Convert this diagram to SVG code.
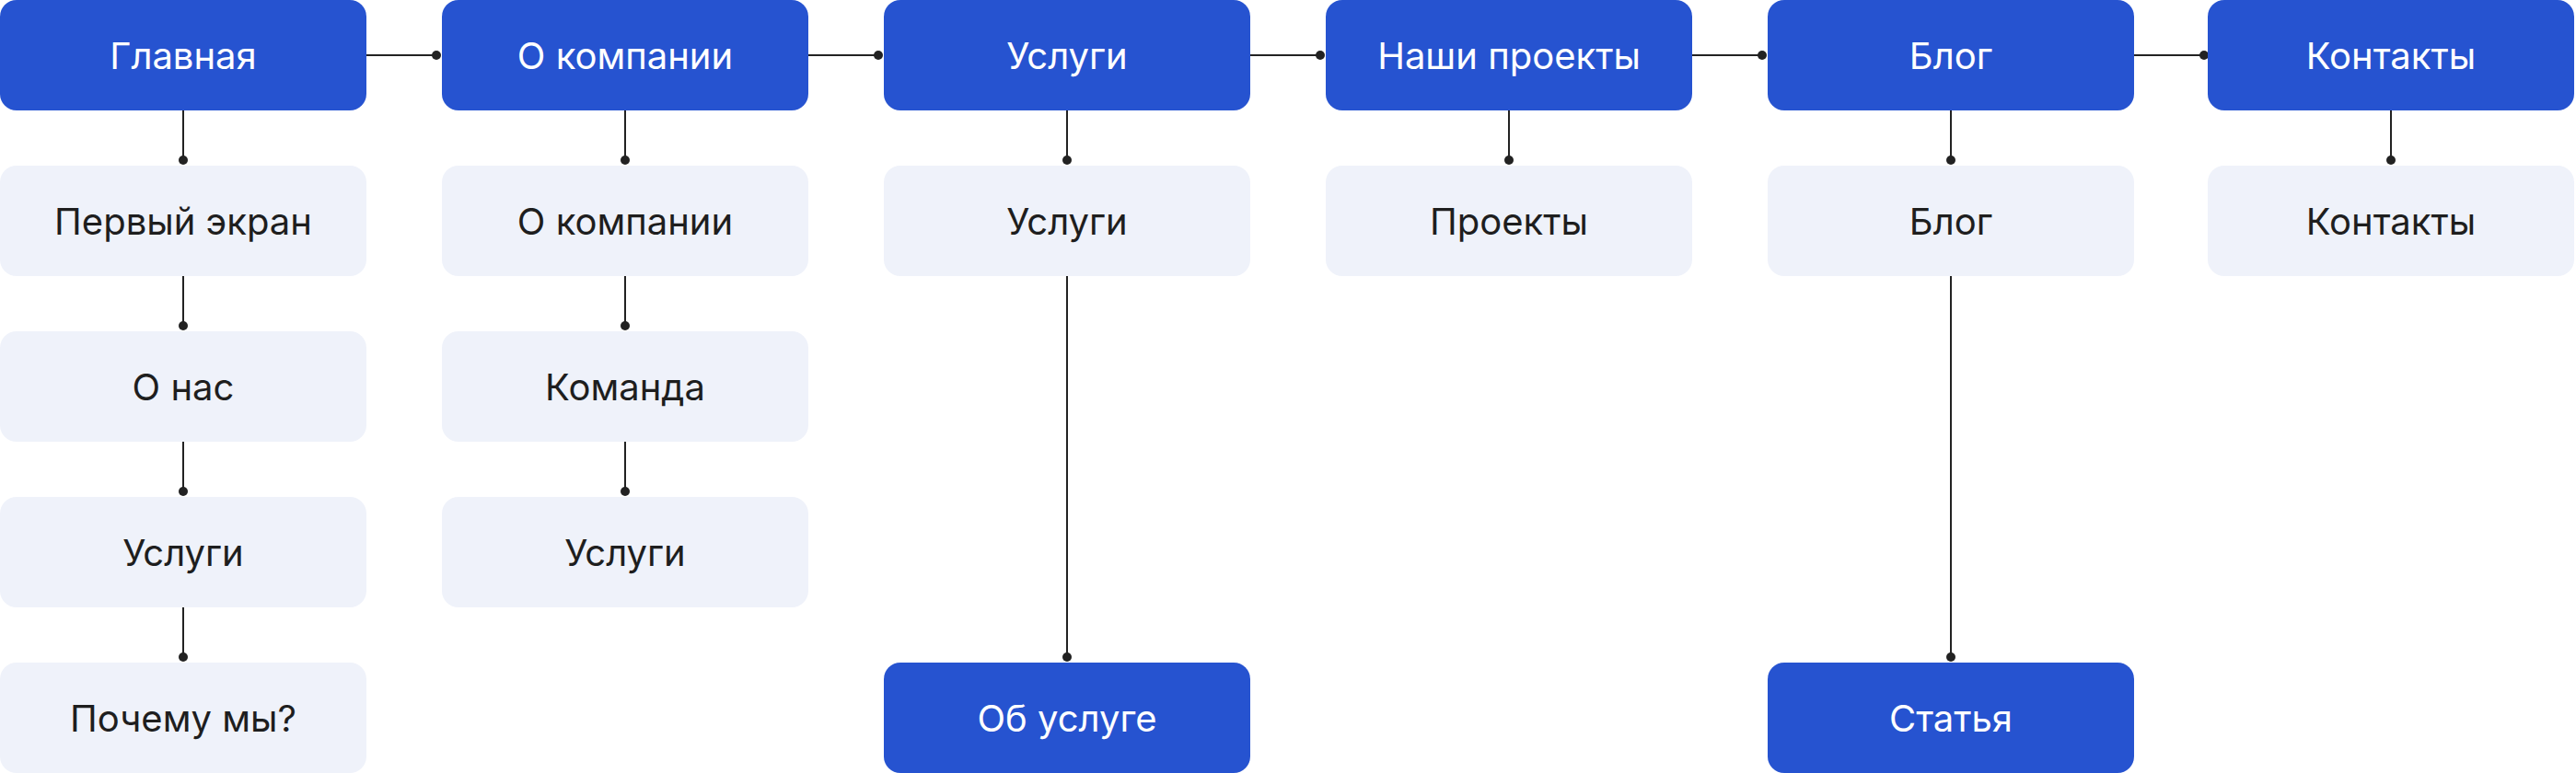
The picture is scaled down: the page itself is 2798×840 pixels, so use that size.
<svg xmlns="http://www.w3.org/2000/svg" width="2798" height="840" viewBox="0 0 2798 840">
<style>
.b{fill:#2653D0}.l{fill:#EFF2FA}
.tw{fill:#fff;font-family:Inter,"Noto Sans",sans-serif;font-size:40px;text-anchor:middle;dominant-baseline:central}
.tk{fill:#1E1E1E;font-family:Inter,"Noto Sans",sans-serif;font-size:40px;text-anchor:middle;dominant-baseline:central}
.c line{stroke:#222;stroke-width:2}.c circle{fill:#222}
</style>
<rect width="2798" height="840" fill="#fff"/>
<g class="c">
<line x1="398" y1="60" x2="474" y2="60"/><circle cx="474" cy="60" r="5"/>
<line x1="878" y1="60" x2="954" y2="60"/><circle cx="954" cy="60" r="5"/>
<line x1="1358" y1="60" x2="1434" y2="60"/><circle cx="1434" cy="60" r="5"/>
<line x1="1838" y1="60" x2="1914" y2="60"/><circle cx="1914" cy="60" r="5"/>
<line x1="2318" y1="60" x2="2394" y2="60"/><circle cx="2394" cy="60" r="5"/>
<line x1="199" y1="120" x2="199" y2="174"/><circle cx="199" cy="174" r="5"/>
<line x1="199" y1="300" x2="199" y2="354"/><circle cx="199" cy="354" r="5"/>
<line x1="199" y1="480" x2="199" y2="534"/><circle cx="199" cy="534" r="5"/>
<line x1="199" y1="660" x2="199" y2="714"/><circle cx="199" cy="714" r="5"/>
<line x1="679" y1="120" x2="679" y2="174"/><circle cx="679" cy="174" r="5"/>
<line x1="679" y1="300" x2="679" y2="354"/><circle cx="679" cy="354" r="5"/>
<line x1="679" y1="480" x2="679" y2="534"/><circle cx="679" cy="534" r="5"/>
<line x1="1159" y1="120" x2="1159" y2="174"/><circle cx="1159" cy="174" r="5"/>
<line x1="1159" y1="300" x2="1159" y2="714"/><circle cx="1159" cy="714" r="5"/>
<line x1="1639" y1="120" x2="1639" y2="174"/><circle cx="1639" cy="174" r="5"/>
<line x1="2119" y1="120" x2="2119" y2="174"/><circle cx="2119" cy="174" r="5"/>
<line x1="2119" y1="300" x2="2119" y2="714"/><circle cx="2119" cy="714" r="5"/>
<line x1="2597" y1="120" x2="2597" y2="174"/><circle cx="2597" cy="174" r="5"/>
</g>
<g id="n1"><rect class="b" x="0" y="0" width="398" height="120" rx="18"/><text class="tw" x="199" y="60">Главная</text></g>
<g id="n2"><rect class="b" x="480" y="0" width="398" height="120" rx="18"/><text class="tw" x="679" y="60">О компании</text></g>
<g id="n3"><rect class="b" x="960" y="0" width="398" height="120" rx="18"/><text class="tw" x="1159" y="60">Услуги</text></g>
<g id="n4"><rect class="b" x="1440" y="0" width="398" height="120" rx="18"/><text class="tw" x="1639" y="60">Наши проекты</text></g>
<g id="n5"><rect class="b" x="1920" y="0" width="398" height="120" rx="18"/><text class="tw" x="2119" y="60">Блог</text></g>
<g id="n6"><rect class="b" x="2398" y="0" width="398" height="120" rx="18"/><text class="tw" x="2597" y="60">Контакты</text></g>
<g id="n1a"><rect class="l" x="0" y="180" width="398" height="120" rx="18"/><text class="tk" x="199" y="240">Первый экран</text></g>
<g id="n1b"><rect class="l" x="0" y="360" width="398" height="120" rx="18"/><text class="tk" x="199" y="420">О нас</text></g>
<g id="n1c"><rect class="l" x="0" y="540" width="398" height="120" rx="18"/><text class="tk" x="199" y="600">Услуги</text></g>
<g id="n1d"><rect class="l" x="0" y="720" width="398" height="120" rx="18"/><text class="tk" x="199" y="780">Почему мы?</text></g>
<g id="n2a"><rect class="l" x="480" y="180" width="398" height="120" rx="18"/><text class="tk" x="679" y="240">О компании</text></g>
<g id="n2b"><rect class="l" x="480" y="360" width="398" height="120" rx="18"/><text class="tk" x="679" y="420">Команда</text></g>
<g id="n2c"><rect class="l" x="480" y="540" width="398" height="120" rx="18"/><text class="tk" x="679" y="600">Услуги</text></g>
<g id="n3a"><rect class="l" x="960" y="180" width="398" height="120" rx="18"/><text class="tk" x="1159" y="240">Услуги</text></g>
<g id="n3b"><rect class="b" x="960" y="720" width="398" height="120" rx="18"/><text class="tw" x="1159" y="780">Об услуге</text></g>
<g id="n4a"><rect class="l" x="1440" y="180" width="398" height="120" rx="18"/><text class="tk" x="1639" y="240">Проекты</text></g>
<g id="n5a"><rect class="l" x="1920" y="180" width="398" height="120" rx="18"/><text class="tk" x="2119" y="240">Блог</text></g>
<g id="n5b"><rect class="b" x="1920" y="720" width="398" height="120" rx="18"/><text class="tw" x="2119" y="780">Статья</text></g>
<g id="n6a"><rect class="l" x="2398" y="180" width="398" height="120" rx="18"/><text class="tk" x="2597" y="240">Контакты</text></g>
</svg>
